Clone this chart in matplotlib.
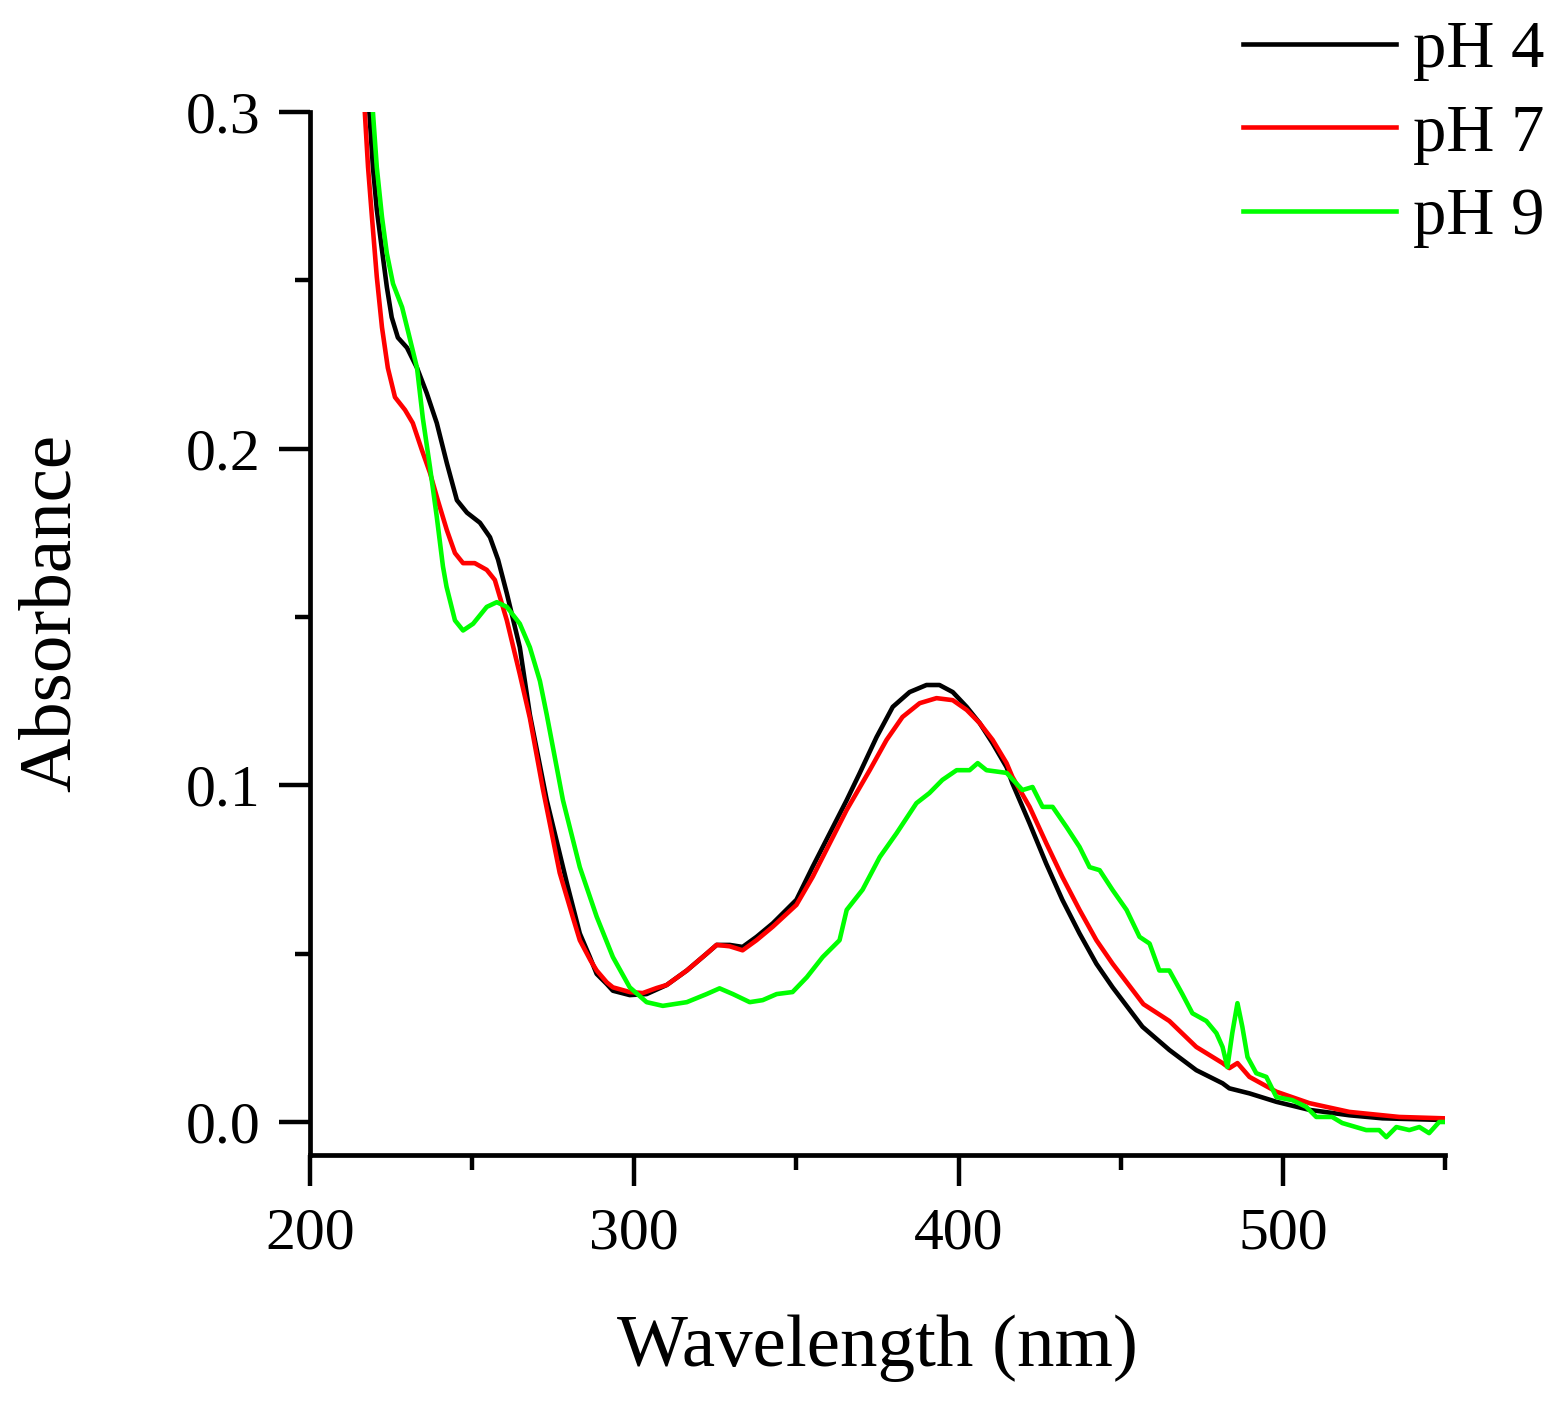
import numpy as np
import matplotlib.pyplot as plt
from matplotlib.ticker import MultipleLocator

# wavelength (nm) / absorbance
wl_ph4 = [218.3, 219.4, 220.6, 222.2, 223.7, 225.2, 227.1, 229.9, 233.0, 236.0, 239.1,
          242.2, 245.3, 248.4, 252.4, 255.5, 258.0, 260.7, 264.7, 267.8, 273.0, 279.2,
          283.2, 286.3, 288.4, 291.5, 293.4, 298.6, 303.8, 310.0, 316.2, 322.3, 325.4,
          329.4, 333.4, 337.7, 342.7, 350.0, 355.0, 365.5, 369.5, 374.7, 379.7, 384.9,
          390.1, 394.1, 398.2, 402.5, 406.5, 410.5, 414.8, 416.6, 421.9, 427.0, 432.0,
          437.3, 442.5, 447.5, 456.7, 465.0, 473.3, 481.4, 483.5, 489.7, 498.0, 508.2,
          520.5, 530.7, 549.5]
abs_ph4 = [0.300, 0.2836, 0.271, 0.259, 0.248, 0.239, 0.233, 0.230, 0.224, 0.2165, 0.2076,
           0.1957, 0.1847, 0.181, 0.178, 0.1737, 0.167, 0.157, 0.141, 0.121, 0.0956, 0.071,
           0.056, 0.049, 0.044, 0.041, 0.039, 0.0377, 0.038, 0.0407, 0.045, 0.050, 0.0526,
           0.0526, 0.052, 0.055, 0.059, 0.066, 0.0758, 0.0956, 0.1036, 0.1143, 0.1233, 0.1277,
           0.1298, 0.1298, 0.1277, 0.1233, 0.1185, 0.1125, 0.1054, 0.1006, 0.0887, 0.0768, 0.066,
           0.056, 0.047, 0.040, 0.0283, 0.0214, 0.0154, 0.0115, 0.0100, 0.0085, 0.006, 0.0036,
           0.002, 0.0011, 0.0006]

wl_ph7 = [216.9, 217.9, 219.1, 220.6, 222.2, 224.0, 226.2, 229.3, 231.7, 234.5, 237.0,
          239.4, 242.2, 244.7, 247.2, 250.8, 254.5, 257.0, 260.7, 264.7, 267.8, 271.8,
          277.0, 281.0, 283.2, 286.5, 288.4, 291.5, 293.4, 298.6, 302.6, 306.9, 310.0,
          316.2, 322.3, 325.4, 329.4, 333.4, 337.7, 342.7, 350.0, 355.0, 365.5, 372.6,
          377.8, 382.7, 388.0, 393.2, 398.2, 402.5, 406.5, 410.5, 414.8, 416.6, 421.9,
          427.0, 432.0, 437.3, 442.5, 447.5, 457.0, 465.0, 473.3, 481.4, 483.5, 486.0,
          489.7, 498.0, 508.2, 520.5, 535.9, 549.5]
abs_ph7 = [0.300, 0.2836, 0.2688, 0.251, 0.236, 0.224, 0.2153, 0.2115, 0.2076, 0.1996, 0.1928,
           0.1847, 0.1758, 0.169, 0.166, 0.166, 0.164, 0.161, 0.149, 0.133, 0.120, 0.099,
           0.074, 0.061, 0.054, 0.048, 0.045, 0.0415, 0.040, 0.0386, 0.0383, 0.0398, 0.0407,
           0.045, 0.050, 0.0526, 0.0522, 0.051, 0.054, 0.058, 0.0645, 0.0728, 0.0927, 0.1045,
           0.1135, 0.1203, 0.1244, 0.1259, 0.1253, 0.1224, 0.1185, 0.1135, 0.1066, 0.1025, 0.0936,
           0.0829, 0.0728, 0.063, 0.054, 0.047, 0.035, 0.030, 0.0223, 0.0175, 0.016, 0.0175,
           0.0134, 0.009, 0.0056, 0.003, 0.0015, 0.0011]

wl_ph9 = [219.4, 220.6, 222.2, 223.7, 225.6, 228.4, 230.2, 233.0, 234.8, 237.0, 239.1,
          241.0, 242.1, 244.7, 247.2, 250.3, 254.5, 257.6, 260.7, 264.7, 267.8, 270.9,
          273.0, 278.0, 283.2, 288.4, 293.4, 298.6, 303.8, 308.8, 316.2, 322.3, 326.3,
          330.4, 335.6, 339.6, 343.9, 348.8, 353.2, 358.1, 363.3, 365.5, 370.4, 375.7,
          380.9, 387.0, 391.0, 395.0, 399.4, 403.4, 405.9, 408.6, 414.8, 419.7, 422.8,
          425.9, 429.0, 433.3, 437.3, 440.4, 443.5, 447.5, 451.8, 455.8, 458.9, 461.9,
          465.0, 469.0, 472.1, 476.4, 479.5, 481.4, 482.9, 484.4, 486.0, 487.5, 489.1,
          491.8, 494.9, 498.0, 502.9, 507.2, 510.3, 515.2, 518.3, 525.7, 529.7, 531.9,
          535.0, 539.0, 542.1, 545.1, 548.2, 549.8]
abs_ph9 = [0.300, 0.2836, 0.2688, 0.258, 0.249, 0.242, 0.235, 0.224, 0.209, 0.1945, 0.1797,
           0.165, 0.159, 0.149, 0.146, 0.148, 0.153, 0.1544, 0.153, 0.148, 0.141, 0.131,
           0.121, 0.0956, 0.0757, 0.061, 0.049, 0.040, 0.0356, 0.0345, 0.0356, 0.038, 0.0397,
           0.038, 0.0356, 0.0362, 0.038, 0.0386, 0.043, 0.049, 0.054, 0.063, 0.069, 0.0787,
           0.0858, 0.0947, 0.0977, 0.1016, 0.1045, 0.1045, 0.1066, 0.1045, 0.1037, 0.0986, 0.0995,
           0.0936, 0.0936, 0.0876, 0.0817, 0.0757, 0.0748, 0.0689, 0.063, 0.055, 0.053, 0.045,
           0.045, 0.038, 0.0323, 0.030, 0.0264, 0.0223, 0.0163, 0.0264, 0.0353, 0.0283, 0.0193,
           0.0145, 0.0134, 0.0074, 0.0065, 0.0045, 0.0015, 0.0015, -0.0003, -0.0024, -0.0024, -0.0045,
           -0.0015, -0.0024, -0.0015, -0.0033, 0.0, 0.0]

labels = ['pH 4', 'pH 7', 'pH 9']
colors = ['#000000', '#ff0000', '#00ff00']

plt.rcParams['font.family'] = ['Liberation Serif', 'DejaVu Serif']

fig = plt.figure(figsize=(15.6, 14.02), dpi=100)
ax = fig.add_axes([310 / 1560, 1 - 1155 / 1402, 1135 / 1560, 1043 / 1402])

for x, y, lab, c in zip([wl_ph4, wl_ph7, wl_ph9], [abs_ph4, abs_ph7, abs_ph9], labels, colors):
    ax.plot(x, y, color=c, lw=3.3, label=lab, solid_joinstyle='round')

ax.set_xlim(200, 550)
ax.set_ylim(-0.0098, 0.3)
ax.xaxis.set_major_locator(MultipleLocator(100))
ax.xaxis.set_minor_locator(MultipleLocator(50))
ax.set_yticks([0.0, 0.1, 0.2, 0.3])
ax.set_yticklabels(['0.0', '0.1', '0.2', '0.3'])
ax.yaxis.set_minor_locator(MultipleLocator(0.05))

for s in ['top', 'right']:
    ax.spines[s].set_visible(False)
for s in ['left', 'bottom']:
    ax.spines[s].set_linewidth(3.4)

ax.tick_params(which='major', direction='out', length=22, width=3.2, labelsize=43, pad=14)
ax.tick_params(which='minor', direction='out', length=11, width=3.2)
ax.tick_params(axis='x', which='major', pad=16)

ax.set_xlabel('Wavelength (nm)', fontsize=54, labelpad=38)
ax.set_ylabel('Absorbance', fontsize=54)
ax.yaxis.set_label_coords(-0.198, 0.52)

fig.legend(loc='upper left', bbox_to_anchor=(1243 / 1560, 1 - 20 / 1402), frameon=False,
           fontsize=48, handlelength=2.3, handletextpad=0.25, labelspacing=0.34,
           borderpad=0, borderaxespad=0)

fig.savefig('out.png', dpi=100)
